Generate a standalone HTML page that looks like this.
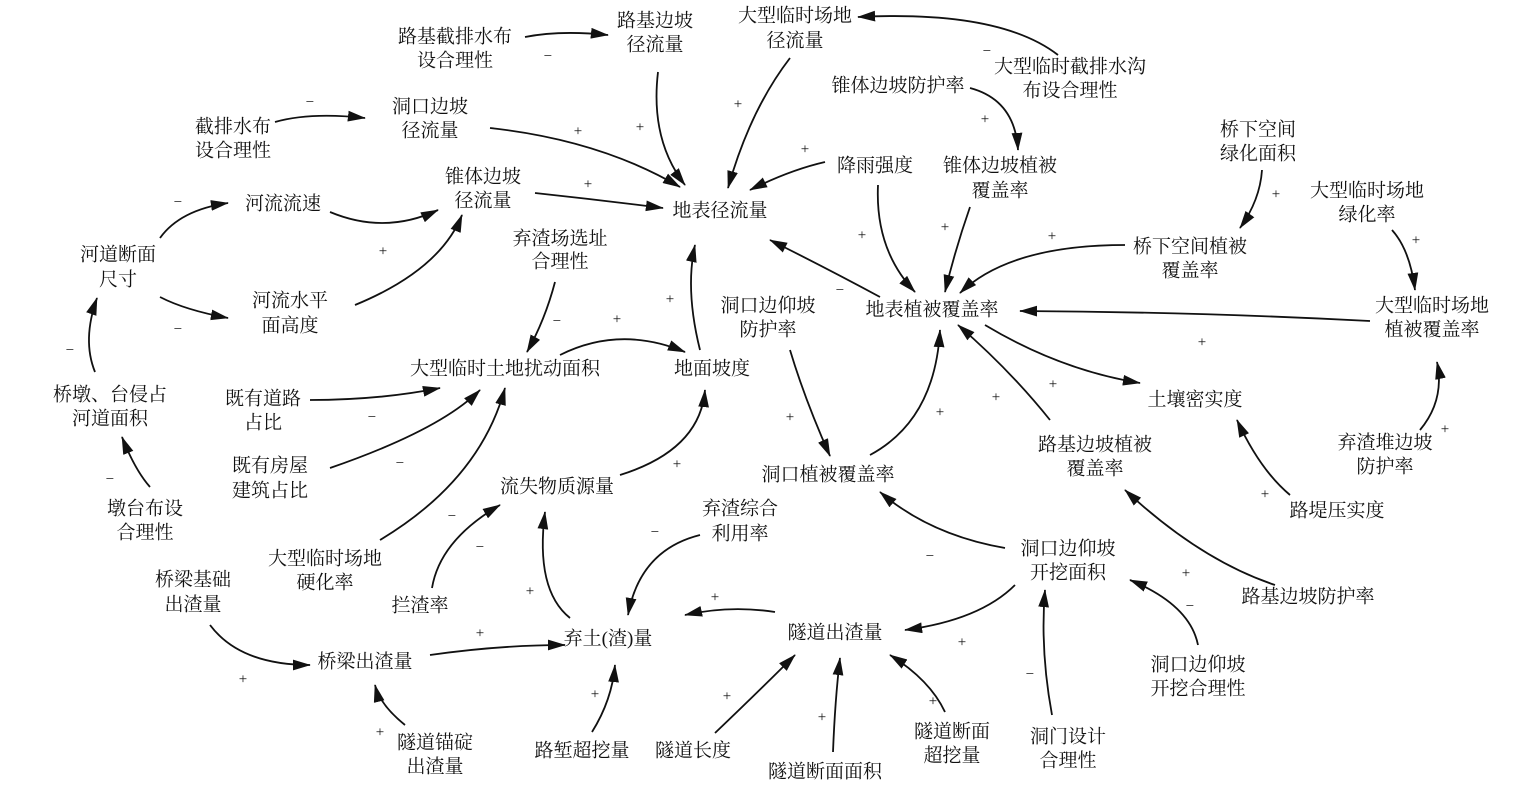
<!DOCTYPE html>
<html><head><meta charset="utf-8"><style>
html,body{margin:0;padding:0;background:#fff;}
svg{display:block;}
text{font-family:"Liberation Serif","Noto Serif CJK SC","Noto Sans CJK SC",serif;font-size:19px;fill:#111;text-anchor:middle;dominant-baseline:middle;}
text.s{font-size:15px;}
path{fill:none;stroke:#111;stroke-width:1.8;marker-end:url(#a);}
</style></head><body>
<svg width="1530" height="795" viewBox="0 0 1530 795" xmlns="http://www.w3.org/2000/svg">
<defs><marker id="a" viewBox="0 0 10 10" refX="9" refY="5" markerWidth="9" markerHeight="7" markerUnits="userSpaceOnUse" orient="auto"><path d="M0,0 L10,5 L0,10 z" style="fill:#111;stroke:none;marker-end:none"/></marker>
<marker id="b" viewBox="0 0 20 12" refX="19" refY="6" markerWidth="18" markerHeight="11" markerUnits="userSpaceOnUse" orient="auto"><path d="M0,0 L20,6 L0,12 z" style="fill:#111;stroke:none"/></marker></defs>
<style>path{marker-end:url(#b)}</style>
<g>
<text x="455" y="38">路基截排水布</text><text x="455" y="62">设合理性</text>
<text x="655" y="22">路基边坡</text><text x="655" y="46">径流量</text>
<text x="795" y="17">大型临时场地</text><text x="795" y="42">径流量</text>
<text x="1070" y="68">大型临时截排水沟</text><text x="1070" y="92">布设合理性</text>
<text x="898" y="87">锥体边坡防护率</text>
<text x="430" y="108">洞口边坡</text><text x="430" y="132">径流量</text>
<text x="233" y="128">截排水布</text><text x="233" y="152">设合理性</text>
<text x="1258" y="131">桥下空间</text><text x="1258" y="155">绿化面积</text>
<text x="875" y="167">降雨强度</text>
<text x="1000" y="167">锥体边坡植被</text><text x="1000" y="192">覆盖率</text>
<text x="483" y="178">锥体边坡</text><text x="483" y="202">径流量</text>
<text x="283" y="205">河流流速</text>
<text x="720" y="212">地表径流量</text>
<text x="1367" y="192">大型临时场地</text><text x="1367" y="216">绿化率</text>
<text x="560" y="240">弃渣场选址</text><text x="560" y="263">合理性</text>
<text x="118" y="256">河道断面</text><text x="118" y="281">尺寸</text>
<text x="1190" y="248">桥下空间植被</text><text x="1190" y="272">覆盖率</text>
<text x="290" y="302">河流水平</text><text x="290" y="327">面高度</text>
<text x="768" y="307">洞口边仰坡</text><text x="768" y="331">防护率</text>
<text x="932" y="311">地表植被覆盖率</text>
<text x="1432" y="307">大型临时场地</text><text x="1432" y="331">植被覆盖率</text>
<text x="505" y="370">大型临时土地扰动面积</text>
<text x="712" y="370">地面坡度</text>
<text x="110" y="396">桥墩、台侵占</text><text x="110" y="420">河道面积</text>
<text x="263" y="400">既有道路</text><text x="263" y="424">占比</text>
<text x="1195" y="401">土壤密实度</text>
<text x="1095" y="446">路基边坡植被</text><text x="1095" y="470">覆盖率</text>
<text x="270" y="467">既有房屋</text><text x="270" y="492">建筑占比</text>
<text x="828" y="476">洞口植被覆盖率</text>
<text x="1385" y="444">弃渣堆边坡</text><text x="1385" y="468">防护率</text>
<text x="557" y="488">流失物质源量</text>
<text x="145" y="510">墩台布设</text><text x="145" y="534">合理性</text>
<text x="1337" y="512">路堤压实度</text>
<text x="740" y="510">弃渣综合</text><text x="740" y="535">利用率</text>
<text x="325" y="560">大型临时场地</text><text x="325" y="584">硬化率</text>
<text x="193" y="581">桥梁基础</text><text x="193" y="606">出渣量</text>
<text x="1068" y="550">洞口边仰坡</text><text x="1068" y="574">开挖面积</text>
<text x="1308" y="598">路基边坡防护率</text>
<text x="420" y="607">拦渣率</text>
<text x="608" y="640">弃土(渣)量</text>
<text x="835" y="634">隧道出渣量</text>
<text x="365" y="663">桥梁出渣量</text>
<text x="1198" y="666">洞口边仰坡</text><text x="1198" y="690">开挖合理性</text>
<text x="435" y="744">隧道锚碇</text><text x="435" y="768">出渣量</text>
<text x="582" y="752">路堑超挖量</text>
<text x="693" y="752">隧道长度</text>
<text x="825" y="773">隧道断面面积</text>
<text x="952" y="733">隧道断面</text><text x="952" y="757">超挖量</text>
<text x="1068" y="738">洞门设计</text><text x="1068" y="762">合理性</text>
</g>
<g>
<path d="M525,37 Q560,30 608,35"/>
<path d="M658,72 Q650,140 685,185"/>
<path d="M790,58 Q750,110 728,188"/>
<path d="M1058,55 Q1000,10 858,17"/>
<path d="M970,88 Q1015,100 1018,150"/>
<path d="M275,122 Q310,112 365,118"/>
<path d="M490,128 Q600,140 680,187"/>
<path d="M825,162 Q790,170 750,190"/>
<path d="M535,193 Q600,200 663,208"/>
<path d="M160,238 Q180,210 228,203"/>
<path d="M330,212 Q385,235 438,210"/>
<path d="M160,297 Q185,310 228,318"/>
<path d="M355,305 Q440,270 462,215"/>
<path d="M95,372 Q82,340 97,298"/>
<path d="M150,487 Q135,470 122,437"/>
<path d="M880,297 Q830,270 770,240"/>
<path d="M878,185 Q875,250 915,292"/>
<path d="M970,207 Q955,250 945,292"/>
<path d="M1262,170 Q1260,200 1240,228"/>
<path d="M1125,245 Q1010,245 960,293"/>
<path d="M1392,230 Q1410,250 1415,290"/>
<path d="M1370,321 Q1200,312 1020,311"/>
<path d="M985,325 Q1060,370 1140,383"/>
<path d="M1050,420 Q1010,370 958,325"/>
<path d="M870,455 Q935,420 940,330"/>
<path d="M790,350 Q805,400 830,456"/>
<path d="M555,282 Q545,320 527,352"/>
<path d="M560,355 Q620,325 685,352"/>
<path d="M700,350 Q685,290 695,245"/>
<path d="M310,400 Q380,400 440,388"/>
<path d="M330,468 Q440,430 480,390"/>
<path d="M380,540 Q480,480 505,388"/>
<path d="M620,475 Q700,450 705,390"/>
<path d="M432,588 Q440,540 500,505"/>
<path d="M570,618 Q535,590 545,512"/>
<path d="M700,535 Q640,550 628,615"/>
<path d="M775,612 Q730,605 685,615"/>
<path d="M430,655 Q500,645 565,645"/>
<path d="M210,625 Q240,665 310,665"/>
<path d="M405,725 Q380,705 375,685"/>
<path d="M592,732 Q612,700 615,665"/>
<path d="M715,733 Q760,690 795,655"/>
<path d="M833,752 Q835,700 840,658"/>
<path d="M945,712 Q930,680 890,655"/>
<path d="M1052,715 Q1040,650 1045,590"/>
<path d="M1015,585 Q980,620 905,630"/>
<path d="M1005,548 Q930,535 880,492"/>
<path d="M1198,645 Q1190,605 1130,580"/>
<path d="M1275,585 Q1200,560 1125,490"/>
<path d="M1290,495 Q1260,470 1237,420"/>
<path d="M1420,430 Q1445,400 1437,362"/>
</g>
<g>
<text class="s" x="548" y="57">−</text><text class="s" x="640" y="128">+</text><text class="s" x="738" y="105">+</text>
<text class="s" x="987" y="52">−</text><text class="s" x="985" y="120">+</text><text class="s" x="310" y="103">−</text>
<text class="s" x="578" y="132">+</text><text class="s" x="805" y="150">+</text><text class="s" x="588" y="185">+</text>
<text class="s" x="178" y="203">−</text><text class="s" x="178" y="330">−</text><text class="s" x="383" y="252">+</text>
<text class="s" x="70" y="351">−</text><text class="s" x="110" y="480">−</text><text class="s" x="840" y="291">−</text>
<text class="s" x="862" y="236">+</text><text class="s" x="945" y="228">+</text><text class="s" x="1276" y="195">+</text>
<text class="s" x="1052" y="237">+</text><text class="s" x="1416" y="241">+</text><text class="s" x="1202" y="343">+</text>
<text class="s" x="1053" y="385">+</text><text class="s" x="996" y="398">+</text><text class="s" x="940" y="413">+</text>
<text class="s" x="790" y="418">+</text><text class="s" x="557" y="322">−</text><text class="s" x="617" y="320">+</text>
<text class="s" x="670" y="300">+</text><text class="s" x="372" y="418">−</text><text class="s" x="400" y="464">−</text>
<text class="s" x="677" y="465">+</text><text class="s" x="452" y="517">−</text><text class="s" x="480" y="548">−</text>
<text class="s" x="530" y="592">+</text><text class="s" x="655" y="533">−</text><text class="s" x="715" y="598">+</text>
<text class="s" x="480" y="634">+</text><text class="s" x="243" y="680">+</text><text class="s" x="380" y="733">+</text>
<text class="s" x="595" y="695">+</text><text class="s" x="727" y="697">+</text><text class="s" x="822" y="718">+</text>
<text class="s" x="933" y="702">+</text><text class="s" x="1030" y="675">−</text><text class="s" x="962" y="643">+</text>
<text class="s" x="930" y="557">−</text><text class="s" x="1186" y="574">+</text><text class="s" x="1190" y="607">−</text>
<text class="s" x="1265" y="495">+</text><text class="s" x="1445" y="430">+</text>
</g>
</svg>
</body></html>
